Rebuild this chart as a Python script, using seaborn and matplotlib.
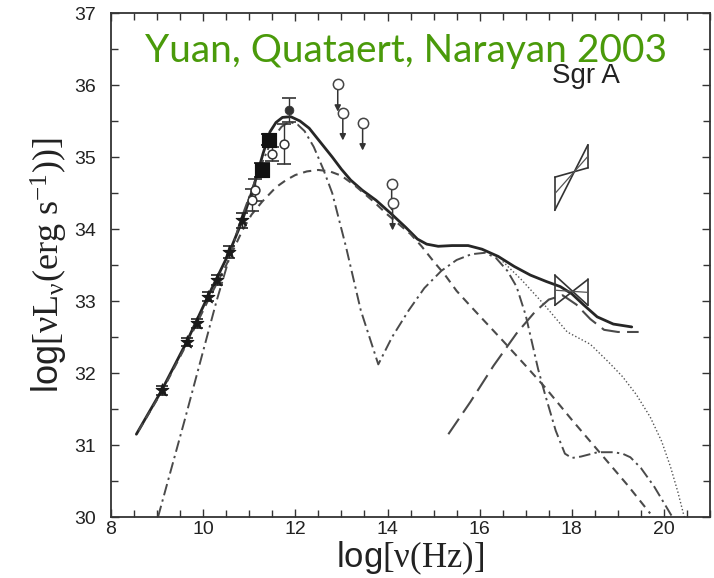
import numpy as np
import pandas as pd
import matplotlib
matplotlib.use("Agg")
import matplotlib.pyplot as plt
from matplotlib.ticker import MultipleLocator
import seaborn as sns

# ---------------- data ----------------
total_x = [8.55, 9.1, 9.64, 10.1, 10.57, 10.85, 11.1, 11.3, 11.45, 11.58, 11.72, 11.9, 12.1,
           12.3, 12.55, 12.8, 13.0, 13.2, 13.45, 13.75, 14.1, 14.4, 14.65, 14.85, 15.1,
           15.4, 15.75, 16.05, 16.4, 16.75, 17.1, 17.45, 17.75, 18.0, 18.25, 18.55, 18.9, 19.3]
total_y = [31.15, 31.76, 32.43, 33.06, 33.68, 34.12, 34.6, 35.05, 35.35, 35.48, 35.55, 35.56, 35.5,
           35.4, 35.2, 35.0, 34.83, 34.68, 34.54, 34.4, 34.2, 34.02, 33.86, 33.79, 33.76,
           33.77, 33.77, 33.72, 33.62, 33.48, 33.36, 33.27, 33.2, 33.1, 32.95, 32.78, 32.68, 32.64]

nonth_x = [8.6, 9.1, 9.64, 10.1, 10.5, 10.85, 11.05, 11.28, 11.58, 11.8, 12.0, 12.25, 12.5,
           12.75, 13.0, 13.3, 13.7, 14.0, 14.5, 14.74, 15.0, 15.25, 15.5, 15.8, 16.5, 17.0,
           17.42, 18.0, 18.6, 19.2, 19.7]
nonth_y = [31.2, 31.74, 32.4, 33.0, 33.5, 33.98, 34.2, 34.38, 34.58, 34.68, 34.75, 34.8, 34.82,
           34.8, 34.74, 34.6, 34.38, 34.2, 33.93, 33.76, 33.55, 33.36, 33.14, 32.93, 32.45, 32.1,
           31.8, 31.35, 30.9, 30.45, 30.05]

therm_x = [9.02, 9.6, 10.29, 10.8, 11.2, 11.5, 11.7, 11.87, 12.05, 12.2, 12.4, 12.6, 12.8,
           13.1, 13.42, 13.8, 14.1, 14.46, 14.8, 15.17, 15.5, 15.82, 16.12, 16.35, 16.6,
           16.8, 17.0, 17.27, 17.42, 17.65, 17.85, 18.0, 18.2, 18.56, 18.9, 19.1, 19.27,
           19.5, 19.79, 20.2]
therm_y = [30.0, 31.35, 33.0, 34.1, 34.8, 35.25, 35.42, 35.49, 35.45, 35.36, 35.14, 34.84, 34.5,
           33.75, 32.87, 32.12, 32.5, 32.87, 33.18, 33.42, 33.57, 33.65, 33.67, 33.6, 33.42,
           33.2, 32.8, 32.05, 31.7, 31.2, 30.88, 30.82, 30.84, 30.9, 30.9, 30.88, 30.83,
           30.68, 30.42, 29.98]

brems_x = [15.32, 15.8, 16.3, 16.8, 17.2, 17.5, 17.8, 18.1, 18.4, 18.7, 19.0, 19.45]
brems_y = [31.15, 31.6, 32.1, 32.55, 32.85, 33.02, 33.08, 32.95, 32.75, 32.6, 32.57, 32.57]

dot_x = [16.5, 16.9, 17.4, 17.9, 18.4, 18.8, 19.1, 19.4, 19.7, 19.95, 20.14, 20.3, 20.44]
dot_y = [33.55, 33.3, 32.95, 32.57, 32.4, 32.15, 31.95, 31.7, 31.39, 31.05, 30.7, 30.35, 30.0]

radio_x = [9.1, 9.64, 9.86, 10.1, 10.31, 10.57, 10.85]
radio_y = [31.76, 32.43, 32.69, 33.06, 33.29, 33.68, 34.12]
radio_err = [0.06, 0.06, 0.06, 0.06, 0.07, 0.08, 0.1]

mm_x = [11.07, 11.13, 11.5, 11.76]
mm_y = [34.4, 34.54, 35.04, 35.18]
mm_err = [0.15, 0.15, 0.1, 0.28]

sq_x = [11.28, 11.43]
sq_y = [34.82, 35.24]
sq_err = [0.1, 0.08]

peak_x = [11.87]
peak_y = [35.65]
peak_err = [0.17]

ul_x = [12.92, 13.03, 13.46, 14.09, 14.11]
ul_y = [36.01, 35.61, 35.47, 34.63, 34.36]

bow_x = [17.63, 18.35]
flare_lo = [34.26, 34.85]
flare_hi = [34.72, 35.17]
quiet_lo = [32.94, 32.94]
quiet_hi = [33.36, 33.30]

x_ticks = [8, 10, 12, 14, 16, 18, 20]
y_ticks = [30, 31, 32, 33, 34, 35, 36, 37]

# ---------------- styling ----------------
sns.set_theme(style="ticks")
plt.rcParams['font.family'] = ['Liberation Sans', 'DejaVu Sans']
plt.rcParams['mathtext.fontset'] = 'custom'
plt.rcParams['mathtext.rm'] = 'Liberation Serif'
plt.rcParams['mathtext.it'] = 'Liberation Serif:italic'

fig = plt.figure(figsize=(7.14, 5.78), dpi=100)
ax = fig.add_axes([0.1555, 0.1055, 0.839, 0.872])

frames = []
for name, xs, ys in [("total", total_x, total_y), ("nonthermal", nonth_x, nonth_y),
                     ("thermal", therm_x, therm_y), ("brems", brems_x, brems_y),
                     ("dotted", dot_x, dot_y)]:
    frames.append(pd.DataFrame({"x": xs, "y": ys, "component": name}))
df = pd.concat(frames, ignore_index=True)

dash_map = {"total": "", "nonthermal": (4, 2.8), "thermal": (6, 2.2, 1.2, 2.2),
            "brems": (9, 3.5), "dotted": (1, 1.6)}
color_map = {"total": "#262626", "nonthermal": "#4a4a4a", "thermal": "#4a4a4a",
             "brems": "#4a4a4a", "dotted": "#555555"}
lw_map = {"total": 2.0, "nonthermal": 1.5, "thermal": 1.4, "brems": 1.5, "dotted": 1.0}

sns.lineplot(data=df, x="x", y="y", hue="component", style="component", size="component",
             palette=color_map, dashes=dash_map, sizes=lw_map, estimator=None,
             sort=False, legend=False, ax=ax)

# data points
ax.errorbar(radio_x, radio_y, yerr=radio_err, fmt="none", ecolor="#222", elinewidth=1,
            capsize=4, capthick=1.2, zorder=4)
sns.scatterplot(x=radio_x, y=radio_y, marker="*", s=90, color="#1a1a1a",
                edgecolor="#1a1a1a", linewidth=0.8, ax=ax, zorder=5)

ax.errorbar(mm_x, mm_y, yerr=mm_err, fmt="none", ecolor="#333", elinewidth=1,
            capsize=5, capthick=1.2, zorder=4)
sns.scatterplot(x=mm_x, y=mm_y, marker="o", s=40, color="white", edgecolor="#333",
                linewidth=1.1, ax=ax, zorder=5)

ax.errorbar(sq_x, sq_y, yerr=sq_err, fmt="none", ecolor="#111", elinewidth=1,
            capsize=6, capthick=1.2, zorder=4)
sns.scatterplot(x=sq_x, y=sq_y, marker="s", s=110, color="#111", edgecolor="#111",
                ax=ax, zorder=5)

ax.errorbar(peak_x, peak_y, yerr=peak_err, fmt="none", ecolor="#333", elinewidth=1,
            capsize=5, capthick=1.2, zorder=4)
sns.scatterplot(x=peak_x, y=peak_y, marker="o", s=40, color="#333", edgecolor="#333",
                ax=ax, zorder=5)

for x, y in zip(ul_x, ul_y):
    ax.annotate("", xy=(x, y - 0.38), xytext=(x, y),
                arrowprops=dict(arrowstyle="-|>", color="#333", lw=1.1,
                                mutation_scale=9, shrinkA=0, shrinkB=0), zorder=4)
sns.scatterplot(x=ul_x, y=ul_y, marker="o", s=55, color="white", edgecolor="#444",
                linewidth=1.1, ax=ax, zorder=5)

# X-ray bowties
for lo, hi in [(flare_lo, flare_hi), (quiet_lo, quiet_hi)]:
    mid = [(lo[0] + hi[0]) / 2, (lo[1] + hi[1]) / 2]
    ax.plot([bow_x[0], bow_x[0]], [lo[0], hi[0]], color="#333", lw=1.2)
    ax.plot([bow_x[1], bow_x[1]], [lo[1], hi[1]], color="#333", lw=1.2)
    ax.plot(bow_x, [lo[0], hi[1]], color="#333", lw=1.2)
    ax.plot(bow_x, [hi[0], lo[1]], color="#333", lw=1.2)
    ax.plot(bow_x, mid, color="#555", lw=0.9)

# axes
ax.set_xlim(8, 21)
ax.set_ylim(30, 37)
ax.set_xticks(x_ticks)
ax.set_yticks(y_ticks)
ax.xaxis.set_minor_locator(MultipleLocator(0.5))
ax.yaxis.set_minor_locator(MultipleLocator(0.5))
ax.tick_params(which="both", direction="in", top=True, right=True, color="#333",
               width=1.0)
ax.tick_params(which="major", length=6)
ax.tick_params(which="minor", length=5)
ax.tick_params(axis="x", labelsize=14, pad=3, labelcolor="#222")
ax.tick_params(axis="y", labelsize=14, pad=11, labelcolor="#222")
for sp in ax.spines.values():
    sp.set_color("#333")
    sp.set_linewidth(1.3)

ax.set_xlabel("log" + r"$\mathrm{[\nu(Hz)]}$", fontsize=25, color="#222", labelpad=1)
ax.set_ylabel("log" + r"$\mathrm{[\nu L_{\nu}(erg\ s^{-1}))]}$", fontsize=26,
              color="#222", labelpad=3)

ax.text(18.3, 36.12, "Sgr A", fontsize=20, color="#222", ha="center", va="center",
        family=["Liberation Sans Narrow", "Liberation Sans"])

fig.text(0.569, 0.912, "Yuan, Quataert, Narayan 2003", fontsize=28, color="#4a9a0a",
         family=["Lato", "DejaVu Sans"], ha="center", va="center")

fig.savefig("out.png", dpi=100)
